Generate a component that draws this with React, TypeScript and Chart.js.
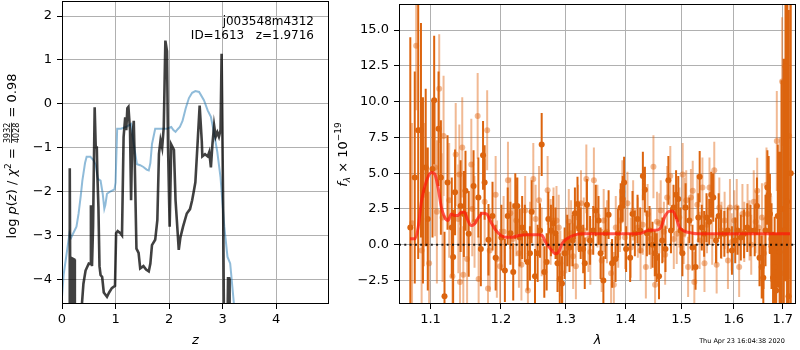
import React, { useEffect, useRef } from "react";
import { Chart, registerables } from "chart.js";
Chart.register(...registerables);

const FAM = "'DejaVu Sans', 'Liberation Sans', sans-serif";

// ---------------- left panel: log p(z) ----------------
const zTicks = [0, 1, 2, 3, 4];
const logpTicks = [-4, -3, -2, -1, 0, 1, 2];
const zRange = [0, 4.985];
const logpRange = [-4.563, 2.342];

const zBlue = [0,0.03,0.06,0.10,0.14,0.17,0.21,0.27,0.31,0.35,0.38,0.40,0.43,0.46,0.53,0.59,0.63,0.67,0.72,0.76,0.79,0.81,0.84,0.90,0.98,1.00,1.03,1.10,1.21,1.29,1.34,1.40,1.46,1.52,1.58,1.62,1.65,1.68,1.74,1.85,1.96,2.04,2.08,2.12,2.16,2.20,2.25,2.31,2.37,2.43,2.49,2.56,2.65,2.72,2.78,2.84,2.90,2.96,3.03,3.09,3.14,3.21,3.30];
const pBlue = [-4.4,-3.9,-3.64,-3.3,-2.95,-3.05,-2.95,-2.8,-2.5,-2.1,-1.75,-1.59,-1.35,-1.21,-1.21,-1.29,-1.4,-1.71,-1.75,-2.05,-2.39,-2.3,-2.05,-2.0,-1.95,-1.8,-0.57,-0.57,-0.52,-0.46,-0.92,-1.38,-1.40,-1.44,-1.5,-1.52,-1.35,-0.92,-0.57,-0.57,-0.57,-0.53,-0.6,-0.64,-0.58,-0.53,-0.39,-0.10,0.13,0.25,0.29,0.27,0.08,-0.15,-0.3,-0.68,-1.1,-1.68,-2.8,-3.49,-3.64,-4.56,-5.5];

const zDark = [0,0.12,0.135,0.145,0.155,0.165,0.19,0.20,0.23,0.24,0.25,0.35,0.37,0.40,0.44,0.50,0.53,0.54,0.56,0.58,0.61,0.63,0.65,0.66,0.68,0.70,0.72,0.75,0.78,0.84,0.88,0.93,0.99,1.01,1.04,1.09,1.12,1.15,1.18,1.20,1.22,1.24,1.27,1.29,1.31,1.34,1.36,1.39,1.43,1.46,1.52,1.57,1.62,1.65,1.68,1.74,1.78,1.81,1.84,1.87,1.90,1.93,1.96,1.98,2.01,2.04,2.09,2.12,2.16,2.18,2.21,2.26,2.33,2.39,2.43,2.46,2.49,2.53,2.57,2.61,2.62,2.67,2.72,2.75,2.78,2.81,2.84,2.87,2.90,2.93,2.96,2.98,3.01,3.03,3.08,3.10,3.12,3.13,3.20,4.985];
const pDark = [-9,-9,-4.6,-1.47,-4.6,-9,-9,-3.53,-3.55,-4.6,-9,-9,-4.6,-4.1,-3.8,-3.64,-3.65,-2.31,-3.7,-2.8,-0.08,-1.0,-1.0,-1.6,-2.35,-3.7,-3.9,-3.95,-4.3,-4.4,-4.3,-4.2,-4.15,-2.95,-2.9,-2.95,-3.0,-0.76,-0.31,-0.6,-0.1,-0.07,-0.6,-2.2,-0.83,-0.39,-1.44,-3.3,-3.4,-3.75,-3.7,-3.78,-3.82,-3.64,-3.22,-3.1,-2.65,-1.14,-0.83,-1.0,-0.53,1.44,1.2,-1.0,-2.8,-0.93,-1.05,-2.2,-2.95,-3.33,-3.05,-2.8,-2.5,-2.4,-2.2,-2.0,-1.79,-0.93,-0.04,-0.86,-1.2,-1.15,-1.2,-1.1,-1.45,-0.9,-0.49,-0.75,-0.65,-0.75,-0.6,1.14,-2.5,-6,-6,-3.98,-3.98,-6,-9,-9];

const fieldName = "j003548m4312";
const idText = "ID=1613   z=1.9716";

// ---------------- right panel: spectrum ----------------
const lamTicks = [1.1, 1.2, 1.3, 1.4, 1.5, 1.6, 1.7];
const fluxTicks = [-2.5, 0, 2.5, 5, 7.5, 10, 12.5, 15];
const lamRange = [1.058, 1.728];
const fluxRange = [-4.14, 16.82];

const darkLam = [1.0729,1.0788,1.0834,1.0871,1.0898,1.0935,1.0963,1.1027,1.1050,1.1110,1.1142,1.1192,1.1234,1.1293,1.1312,1.1339,1.1417,1.1463,1.1486,1.1532,1.1601,1.1670,1.1706,1.1738,1.1761,1.1817,1.1876,1.1922,
1.2007,1.2059,1.2101,1.2142,1.2184,1.2215,1.2246,1.2282,1.2319,1.2360,1.2402,1.2438,1.2464,1.2516,1.2557,1.2594,1.2620,1.2661,1.2698,1.2724,1.2765,1.2801,1.2838,1.2869,1.2905,1.2941,1.2983,1.3025,1.3061,1.3113,1.3149,1.3191,1.3217,1.3243,1.3284,1.3310,1.3346,1.3398,1.3450,1.3492,
1.3538,1.3573,1.3620,1.3656,1.3708,1.3767,1.3826,1.3867,1.3914,1.3949,1.3973,1.4008,1.4078,1.4119,1.4160,1.4207,1.4254,1.4301,1.4337,1.4372,1.4419,1.4472,1.4513,1.4548,1.4589,1.4648,1.4706,1.4759,1.4806,1.4853,1.4900,1.4941,1.4982,1.5017,1.5076,1.5147,1.5205,
1.5263,1.5315,1.5341,1.5380,1.5426,1.5471,1.5523,1.5562,1.5601,1.5653,1.5705,1.5751,1.5816,1.5881,1.5965,1.6030,1.6076,1.6141,1.6206,1.6271,1.6336,1.6420,1.6466,1.6518,1.6563,1.6596,1.6641,1.6680,1.6706,1.6732,1.6765,1.6797,1.6830,1.6862,1.6895,1.6934,1.6973,1.7018,1.7057,1.7090,1.7122,1.7168];
const darkFlux = [1.2,4.7,8.0,8.0,3.8,5.4,1.8,5.3,10.1,8.1,4.7,-3.6,4.35,1.2,-0.86,3.66,2.7,2.15,3.77,0.76,4.1,3.3,-0.3,6.25,4.35,0.35,2.0,-0.9,
0.5,-1.8,2.0,0.8,-1.9,2.7,2.7,0.5,1.2,0.8,-1.2,-0.6,2.3,-2.2,-0.6,1.0,7.0,-1.9,-1.2,1.8,1.0,1.5,0.8,-1.3,-2.4,-2.7,-0.6,0.3,-0.2,0.3,2.2,2.85,1.2,0.8,-0.3,-1.3,2.8,0.3,1.0,2.4,
1.7,-0.6,-2.5,0.8,2.1,-1.3,-1.0,0.8,2.6,3.2,4.35,-0.3,-0.9,2.15,0.8,1.8,1.0,4.8,3.85,0.8,1.0,0.0,-0.6,-0.9,-2.2,0.3,-0.3,4.5,1.0,2.6,3.5,3.2,1.0,-0.6,2.6,1.7,-0.2,
-1.55,1.9,4.75,1.2,0.76,1.9,1.6,3.5,3.3,0.3,2.0,0.76,0.76,1.0,-0.4,0.3,1.0,0.5,0.76,1.2,1.0,1.0,2.7,-0.9,-1.55,-2.3,1.0,4.0,3.5,2.15,-0.1,-2.3,-1.55,-3.2,2.0,-0.5,2.5,1.0,12.45,3.0,-3.6,5.0];
const darkErr = [13.3,7.4,9.0,7.5,6.5,5.5,5.0,4.8,4.5,4.0,4.0,4.5,3.3,3.5,3.3,3.0,3.2,3.0,2.8,3.0,2.5,2.8,2.6,2.4,2.6,2.5,2.4,2.3,
2.3,2.2,2.0,2.2,2.0,2.3,2.0,2.0,2.2,2.0,2.0,1.9,2.2,1.9,2.0,1.9,2.2,1.8,2.0,1.9,1.8,1.9,1.8,2.0,1.8,1.9,1.8,1.8,1.7,1.8,1.8,1.9,1.7,1.8,1.7,1.8,1.8,1.7,1.7,1.8,
1.7,1.8,1.7,1.8,1.7,1.7,1.6,1.7,1.7,1.6,1.8,1.6,1.7,1.6,1.6,1.7,1.6,1.7,1.6,1.6,1.7,1.6,1.6,1.7,1.6,1.6,1.6,1.7,1.6,1.6,1.7,1.6,1.6,1.6,1.7,1.6,1.6,
1.6,1.7,1.8,1.6,1.6,1.7,1.6,1.6,1.7,1.6,1.6,1.7,1.6,1.6,1.7,1.6,1.7,1.6,1.7,1.7,1.8,1.8,2.0,2.0,2.2,2.3,2.5,2.6,2.7,2.8,3.0,3.2,3.5,4.0,5.0,7.0,9.0,12.0,15.0,18.0,20.0,20.0];

const lightLam = [1.0752,1.0807,1.0880,1.0912,1.0981,1.1064,1.1087,1.1119,1.1165,1.1179,1.1257,1.1302,1.1348,1.1385,1.1399,1.1408,1.1440,1.1455,1.1509,1.1569,1.1582,1.1615,1.1660,1.1674,1.1761,1.1798,1.1810,1.1835,1.1922,1.1940,
1.1987,1.2040,1.2105,1.2140,1.2179,1.2230,1.2270,1.2308,1.2365,1.2407,1.2440,1.2490,1.2526,1.2578,1.2620,1.2713,1.2760,1.2806,1.2853,1.2889,1.2915,1.2948,1.3009,1.3050,1.3087,1.3120,1.3165,1.3200,1.3248,1.3294,1.3336,1.3370,1.3402,1.3461,
1.3520,1.3591,1.3625,1.3680,1.3750,1.3797,1.3830,1.3872,1.3902,1.3943,1.3990,1.4031,1.4090,1.4130,1.4212,1.4260,1.4300,1.4354,1.4384,1.4442,1.4489,1.4518,1.4553,1.4595,1.4620,1.4677,1.4700,1.4736,1.4794,1.4858,1.4912,1.4960,1.5022,1.5041,1.5060,1.5088,1.5123,1.5176,1.5210,1.5240,
1.5296,1.5340,1.5393,1.5432,1.5480,1.5528,1.5580,1.5620,1.5666,1.5718,1.5760,1.5821,1.5886,1.5926,1.5960,1.6011,1.6060,1.6108,1.6173,1.6210,1.6276,1.6316,1.6350,1.6401,1.6440,1.6471,1.6498,1.6568,1.6610,1.6661,1.6720,1.6758,1.6875,1.6940,1.6986,1.7031,1.7135];
const lightFlux = [1.5,13.9,-0.4,3.5,-1.3,5.4,2.3,10.9,1.9,7.6,3.1,-2.2,6.3,1.8,4.9,-2.6,6.8,-2.1,-1.0,5.6,2.5,1.6,9.0,-2.4,3.0,8.0,-3.05,-0.4,3.5,-1.0,
-1.5,0.9,4.5,2.2,0.4,1.7,-0.6,-1.4,2.4,-3.2,0.6,4.6,1.8,3.1,0.2,3.8,0.9,1.7,1.7,1.2,-1.3,-2.0,0.3,1.6,0.8,-0.8,-1.5,1.9,2.9,1.0,4.6,0.4,-0.5,4.5,
2.0,-1.1,1.7,0.9,-2.0,-2.8,1.2,0.5,1.7,3.7,0.5,2.9,-0.2,2.4,1.2,-0.4,1.4,-1.55,2.15,0.4,5.45,-2.8,1.6,1.5,2.4,0.9,-0.7,3.3,4.8,0.4,0.76,1.9,4.9,0.76,2.6,3.1,-1.55,3.3,3.77,-2.6,
2.8,0.3,4.0,-1.3,1.4,4.0,0.6,5.2,-1.4,2.6,1.0,1.7,-1.1,2.6,0.2,1.7,2.6,-1.55,2.15,0.9,2.15,1.0,0.0,3.0,1.6,3.77,1.2,1.9,-0.6,4.2,2.2,0.4,7.25,2.5,11.4,-2.0,7.6];
const lightErr = [7.0,4.5,5.5,5.0,5.0,4.8,5.0,3.8,4.5,4.2,4.0,4.0,3.6,3.8,3.5,3.8,3.5,3.4,3.3,3.2,3.3,3.2,3.0,3.0,3.0,2.8,2.8,2.9,2.7,2.7,
2.6,2.5,2.7,2.5,2.5,2.5,2.4,2.5,2.4,2.5,2.4,2.5,2.4,2.4,2.4,2.4,2.3,2.3,2.4,2.3,2.3,2.4,2.3,2.3,2.3,2.3,2.3,2.3,2.3,2.3,2.4,2.3,2.3,2.3,
2.2,2.2,2.2,2.2,2.2,2.3,2.2,2.1,2.2,2.2,2.2,2.2,2.1,2.1,2.1,2.1,2.1,2.2,2.1,2.1,2.2,2.2,2.1,2.1,2.1,2.1,2.1,2.2,2.1,2.1,2.1,2.1,2.2,2.1,2.1,2.1,2.1,2.0,2.1,2.1,
2.1,2.0,2.1,2.0,2.0,2.1,2.0,2.0,2.0,2.1,2.0,2.0,2.0,2.0,2.0,2.1,2.0,2.1,2.1,2.1,2.1,2.1,2.1,2.2,2.2,2.3,2.3,2.4,2.5,2.6,2.8,3.0,3.5,5.0,4.5,7.0,10.0];

const modelLam = [1.0725,1.0790,1.0834,1.0879,1.0946,1.1013,1.1058,1.1103,1.1149,1.1194,1.1240,1.1287,1.1332,1.1378,1.1426,1.1472,1.1510,1.1567,1.1614,1.1675,1.1732,1.1790,1.1854,1.1927,1.2000,1.2074,1.2172,1.2272,1.2423,1.2576,1.2627,1.2680,1.2758,1.2836,1.2888,1.2941,1.3020,1.3127,1.3262,1.3481,1.4043,1.4273,1.4391,1.4569,1.4628,1.4689,1.4779,1.4839,1.4899,1.4961,1.5053,1.5175,1.5300,1.5873,1.6534,1.7153];
const modelFlux = [0.42,0.42,1.23,3.08,4.47,5.05,4.93,4.0,2.62,1.92,1.69,2.15,2.04,2.04,2.27,2.27,1.81,1.34,1.46,1.92,2.2,2.15,1.57,1.0,0.65,0.53,0.53,0.65,0.69,0.69,0.65,0.19,-0.28,-0.63,-0.5,0.07,0.42,0.65,0.76,0.76,0.76,0.81,1.0,1.04,1.23,1.92,2.34,2.34,1.92,1.23,0.95,0.83,0.76,0.76,0.76,0.76];

const stampText = "Thu Apr 23 16:04:38 2020";

// ---------------- colours ----------------
const BLUE = "rgba(31,119,180,0.5)";
const DARKLINE = "rgba(0,0,0,0.75)";
const ORANGE = "rgb(220,100,14)";
const ORANGE_LIGHT = "rgba(225,100,15,0.45)";
const MODEL = "rgba(255,20,10,0.7)";

// ---------------- helpers ----------------
const minus = (s: string) => s.replace("-", "\u2212");

function errorSegments(lam: number[], f: number[], e: number[]) {
  const out: any[] = [];
  lam.forEach((x, i) => {
    out.push({ x, y: f[i] - e[i] });
    out.push({ x, y: f[i] + e[i] });
    out.push({ x, y: null });
  });
  return out;
}

function xy(xs: number[], ys: number[]) {
  return xs.map((x, i) => ({ x, y: ys[i] }));
}

function mkScale(kind: string, range: number[], ticks: number[], fmt: (v: number) => string, axis: "x" | "y", fit: number) {
  return {
    type: kind,
    min: range[0],
    max: range[1],
    afterBuildTicks: (s: any) => {
      s.ticks = ticks.map((v) => ({ value: v }));
    },
    afterFit: (s: any) => {
      if (axis === "x") s.height = fit;
      else s.width = fit;
      s.paddingTop = 0;
      s.paddingBottom = 0;
      s.paddingLeft = 0;
      s.paddingRight = 0;
    },
    ticks: {
      font: { family: FAM, size: 13 },
      color: "#000",
      padding: axis === "x" ? 3 : 5,
      autoSkip: false,
      maxRotation: 0,
      minRotation: 0,
      callback: (v: any) => fmt(Number(v)),
    },
    grid: { color: "#b0b0b0", lineWidth: 1, tickColor: "#000", tickLength: 5, tickWidth: 1 },
    border: { display: false },
  };
}

const framePlugin = {
  id: "frame",
  afterDatasetsDraw(chart: any) {
    const { ctx, chartArea: a } = chart;
    ctx.save();
    ctx.strokeStyle = "#000";
    ctx.lineWidth = 1;
    const l = Math.round(a.left) + 0.5;
    const t = Math.round(a.top) + 0.5;
    const r = Math.round(a.right) - 0.5;
    const b = Math.round(a.bottom) - 0.5;
    ctx.strokeRect(l, t, r - l, b - t);
    ctx.restore();
  },
};

type Seg = { t?: string; f: string; dy?: number; num?: string; den?: string };

function drawRich(ctx: CanvasRenderingContext2D, segs: Seg[], bx: number, cy: number) {
  const widths = segs.map((s) => {
    ctx.font = s.f;
    if (s.num !== undefined) {
      return Math.max(ctx.measureText(s.num).width, ctx.measureText(s.den || "").width) + 2;
    }
    return ctx.measureText(s.t || "").width;
  });
  const W = widths.reduce((a, b) => a + b, 0);
  ctx.save();
  ctx.translate(bx, cy);
  ctx.rotate(-Math.PI / 2);
  ctx.fillStyle = "#000";
  ctx.textBaseline = "alphabetic";
  let x = -W / 2;
  segs.forEach((s, i) => {
    ctx.font = s.f;
    const w = widths[i];
    if (s.num !== undefined) {
      ctx.textAlign = "center";
      ctx.fillText(s.num, x + w / 2, -6);
      ctx.fillText(s.den || "", x + w / 2, 2.5);
      ctx.fillRect(x + 1, -4.9, w - 2, 0.8);
    } else {
      ctx.textAlign = "left";
      ctx.fillText(s.t || "", x, s.dy || 0);
    }
    x += w;
  });
  ctx.restore();
}

const M13 = `13px ${FAM}`;
const I13 = `italic 13px ${FAM}`;

const leftTextPlugin = {
  id: "leftText",
  afterDraw(chart: any) {
    const ctx: CanvasRenderingContext2D = chart.ctx;
    ctx.save();
    ctx.fillStyle = "#000";
    ctx.textBaseline = "alphabetic";
    ctx.textAlign = "right";
    ctx.font = `12px ${FAM}`;
    ctx.fillText(fieldName, 314, 24.5);
    ctx.fillText(idText, 314, 38.5);
    ctx.textAlign = "center";
    ctx.font = I13;
    ctx.fillText("z", (chart.chartArea.left + chart.chartArea.right) / 2, 343.5);
    ctx.restore();
    drawRich(
      ctx,
      [
        { t: "log ", f: M13 },
        { t: "p", f: I13 },
        { t: "(", f: M13 },
        { t: "z", f: I13 },
        { t: ")", f: M13 },
        { t: " / ", f: M13 },
        { t: "\u03c7", f: I13 },
        { t: "2", f: `9px ${FAM}`, dy: -5.5 },
        { t: " = ", f: M13 },
        { num: "3932", den: "4028", f: `8px ${FAM}` },
        { t: " = 0.98", f: M13 },
      ],
      16,
      156
    );
  },
};

const rightTextPlugin = {
  id: "rightText",
  afterDraw(chart: any) {
    const ctx: CanvasRenderingContext2D = chart.ctx;
    ctx.save();
    ctx.fillStyle = "#000";
    ctx.textBaseline = "alphabetic";
    ctx.textAlign = "center";
    ctx.font = I13;
    ctx.fillText("\u03bb", (chart.chartArea.left + chart.chartArea.right) / 2, 343.5);
    ctx.font = `6.5px ${FAM}`;
    ctx.fillText(stampText, 412, 342.5);
    ctx.restore();
    drawRich(
      ctx,
      [
        { t: "f", f: I13 },
        { t: "\u03bb", f: `italic 9px ${FAM}`, dy: 3 },
        { t: " \u00d7 10", f: M13 },
        { t: "\u221219", f: `9px ${FAM}`, dy: -5.5 },
      ],
      16.5,
      154.5
    );
  },
};

function leftConfig(): any {
  return {
    type: "line",
    data: {
      datasets: [
        { data: xy(zBlue, pBlue), borderColor: BLUE, borderWidth: 2, pointRadius: 0, tension: 0, clip: 0, order: 2 },
        { data: xy(zDark, pDark), borderColor: DARKLINE, borderWidth: 2.6, pointRadius: 0, tension: 0, clip: 0, order: 1 },
      ],
    },
    options: {
      responsive: false,
      animation: false,
      events: [],
      layout: { padding: { left: 0, right: 11, top: 1, bottom: 0 } },
      plugins: { legend: { display: false }, tooltip: { enabled: false } },
      scales: {
        x: mkScale("linear", zRange, zTicks, (v) => String(v), "x", 46),
        y: mkScale("linear", logpRange, logpTicks, (v) => minus(String(v)), "y", 62),
      },
    },
    plugins: [framePlugin, leftTextPlugin],
  };
}

function rightConfig(): any {
  const pt = (color: string, order: number, lam: number[], f: number[]) => ({
    data: xy(lam, f),
    showLine: false,
    pointRadius: 3,
    pointBorderWidth: 0,
    pointBackgroundColor: color,
    borderColor: color,
    clip: 0,
    order,
  });
  const bars = (color: string, order: number, lam: number[], f: number[], e: number[]) => ({
    data: errorSegments(lam, f, e),
    borderColor: color,
    borderWidth: 2,
    borderCapStyle: "butt",
    pointRadius: 0,
    spanGaps: false,
    tension: 0,
    clip: 0,
    order,
  });
  return {
    type: "line",
    data: {
      datasets: [
        bars(ORANGE_LIGHT, 7, lightLam, lightFlux, lightErr),
        pt(ORANGE_LIGHT, 6, lightLam, lightFlux),
        bars(ORANGE, 5, darkLam, darkFlux, darkErr),
        pt(ORANGE, 4, darkLam, darkFlux),
        {
          data: xy(modelLam, modelFlux),
          borderColor: MODEL,
          borderWidth: 3,
          pointRadius: 0,
          cubicInterpolationMode: "monotone",
          clip: 0,
          order: 2,
        },
        {
          data: [
            { x: lamRange[0], y: 0 },
            { x: lamRange[1], y: 0 },
          ],
          borderColor: "rgba(0,0,0,0.85)",
          borderWidth: 2,
          borderDash: [2, 3.3],
          pointRadius: 0,
          clip: 0,
          order: 1,
        },
      ],
    },
    options: {
      responsive: false,
      animation: false,
      events: [],
      layout: { padding: { left: 0, right: 1, top: 1, bottom: 0 } },
      plugins: { legend: { display: false }, tooltip: { enabled: false } },
      scales: {
        x: mkScale("logarithmic", lamRange, lamTicks, (v) => v.toFixed(1), "x", 46),
        y: mkScale("linear", fluxRange, fluxTicks, (v) => minus(v.toFixed(1)), "y", 69),
      },
    },
    plugins: [framePlugin, rightTextPlugin],
  };
}

export default function App() {
  const leftRef = useRef<HTMLCanvasElement>(null);
  const rightRef = useRef<HTMLCanvasElement>(null);
  useEffect(() => {
    const c1 = new Chart(leftRef.current as HTMLCanvasElement, leftConfig());
    const c2 = new Chart(rightRef.current as HTMLCanvasElement, rightConfig());
    return () => {
      c1.destroy();
      c2.destroy();
    };
  }, []);
  return (
    <div style={{ position: "absolute", left: 0, top: 0, width: 800, height: 350, background: "#fff" }}>
      <canvas ref={leftRef} width={340} height={350} style={{ position: "absolute", left: 0, top: 0 }} />
      <canvas ref={rightRef} width={470} height={350} style={{ position: "absolute", left: 330, top: 0 }} />
    </div>
  );
}
